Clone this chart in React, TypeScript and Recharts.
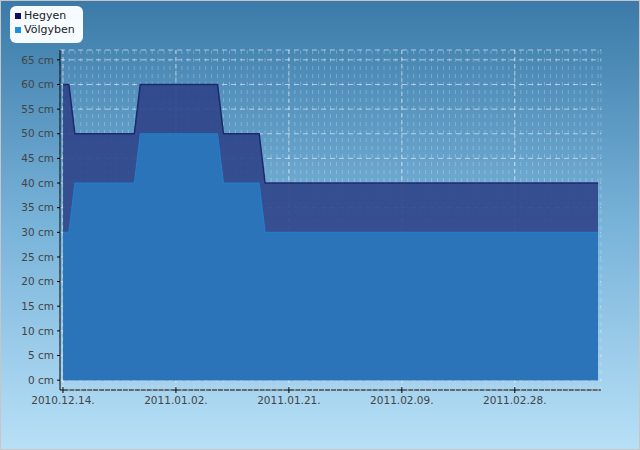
import { AreaChart, Area, XAxis, YAxis, CartesianGrid, Legend } from "recharts";

// days counted from 2010.12.14; only the points where the level changes
const days = [0, 1, 2, 12, 13, 26, 27, 33, 34, 90];
const hegyen = [60, 60, 50, 50, 60, 60, 50, 50, 40, 40];
const volgyben = [30, 30, 40, 40, 50, 50, 40, 40, 30, 30];

const majorDays = [0, 19, 38, 57, 76];
const dateLabels = ["2010.12.14.", "2011.01.02.", "2011.01.21.", "2011.02.09.", "2011.02.28."];
const cmTicks = [0, 5, 10, 15, 20, 25, 30, 35, 40, 45, 50, 55, 60, 65];
const dayTicks = Array.from({ length: 91 }, (_, i) => i); // one minor tick per day

const seriesNames = ["Hegyen", "Völgyben"];
const legendColors = ["#10115e", "#1c8fde"];

const data = days.map((day, i) => ({ day, hegyen: hegyen[i], volgyben: volgyben[i] }));

const FONT = "'DejaVu Sans', Verdana, sans-serif";

function DayTick(props: any) {
  const { x, y, payload } = props;
  const idx = majorDays.indexOf(payload.value);
  if (idx < 0) {
    return <line x1={x} x2={x} y1={y - 3} y2={y + 2} stroke="#b8c8d4" />;
  }
  return (
    <g>
      <line x1={x} x2={x} y1={y - 3} y2={y + 3} stroke="#000" />
      <text x={x} y={y + 14} textAnchor="middle" fill="#444" fontSize={10.5} fontFamily={FONT}>
        {dateLabels[idx]}
      </text>
    </g>
  );
}

function LegendBox() {
  return (
    <div
      style={{
        background: "#f5fbff",
        borderRadius: 6,
        padding: "3px 8px 6px 5px",
        fontFamily: FONT,
        fontSize: 11,
        color: "#222",
        lineHeight: "14px",
      }}
    >
      {seriesNames.map((name, i) => (
        <div key={name} style={{ display: "flex", alignItems: "center", whiteSpace: "nowrap" }}>
          <span style={{ width: 6, height: 6, background: legendColors[i], marginRight: 3, display: "inline-block" }} />
          {name}
        </div>
      ))}
    </div>
  );
}

export default function App() {
  return (
    <div
      style={{
        position: "absolute",
        left: 0,
        top: 0,
        width: 640,
        height: 450,
        background: "linear-gradient(180deg, #3b7aa8 0%, #78b3d9 50%, #b8e0f7 100%)",
        boxShadow: "inset 0 0 0 1px #c6c6c6",
      }}
    >
      <AreaChart width={640} height={450} data={data} margin={{ top: 50, right: 39, bottom: 30, left: 0 }}>
        <CartesianGrid horizontal={false} stroke="rgba(255,255,255,0.25)" strokeDasharray="4 4" />
        <CartesianGrid horizontal={false} verticalValues={majorDays} stroke="rgba(255,255,255,0.55)" strokeDasharray="4 3" />
        <CartesianGrid vertical={false} stroke="rgba(255,255,255,0.55)" strokeDasharray="5 4" />
        <XAxis
          type="number"
          dataKey="day"
          domain={[-0.5, 90.5]}
          ticks={dayTicks}
          interval={0}
          height={30}
          tickSize={0}
          tickMargin={0}
          tick={<DayTick />}
          axisLine={{ stroke: "#000" }}
          tickLine={false}
        />
        <YAxis
          type="number"
          domain={[-2, 67]}
          ticks={cmTicks}
          interval={0}
          width={60}
          tickSize={3}
          tickMargin={3}
          tickFormatter={(v) => `${v} cm`}
          tick={{ fill: "#444", fontSize: 10.5, fontFamily: FONT }}
          axisLine={{ stroke: "#000" }}
          tickLine={{ stroke: "#000" }}
        />
        <Legend
          layout="horizontal"
          verticalAlign="middle"
          align="center"
          wrapperStyle={{ left: 10, top: 6, width: "auto" }}
          content={() => <LegendBox />}
        />
        <Area
          name={seriesNames[0]}
          type="linear"
          dataKey="hegyen"
          baseValue={0}
          stroke="#1b2a6c"
          strokeWidth={1.5}
          fill="#2f4488"
          fillOpacity={0.9}
          dot={false}
          activeDot={false}
          isAnimationActive={false}
        />
        <Area
          name={seriesNames[1]}
          type="linear"
          dataKey="volgyben"
          baseValue={0}
          stroke="#2180d0"
          strokeWidth={1}
          fill="#2a77bd"
          fillOpacity={0.92}
          dot={false}
          activeDot={false}
          isAnimationActive={false}
        />
      </AreaChart>
    </div>
  );
}
